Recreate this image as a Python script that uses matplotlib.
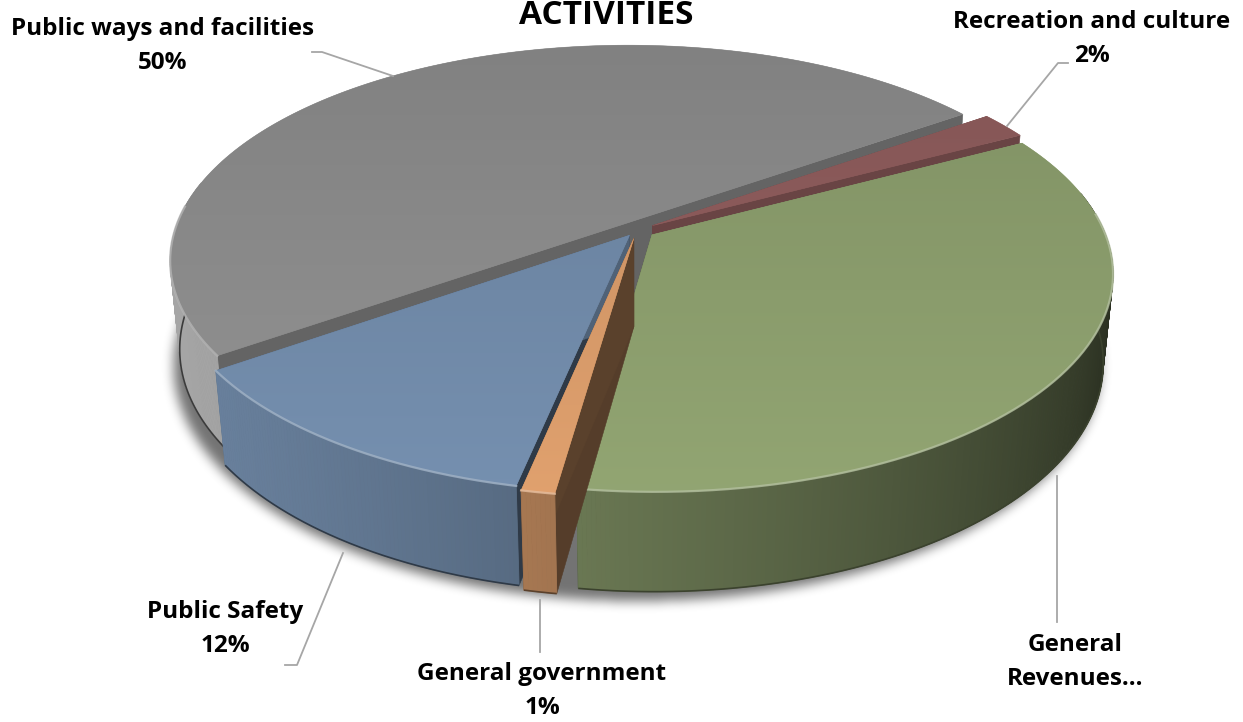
import numpy as np
import matplotlib.pyplot as plt
from matplotlib.collections import PolyCollection
from matplotlib.patches import Polygon
from matplotlib.path import Path
from matplotlib.colors import to_rgb

W, H = 1243, 722

# slices in drawing order around the pie (clockwise from the left edge)
categories = ["Public ways and facilities", "Recreation and culture",
              "General Revenues", "General government", "Public Safety"]
shares = [50, 2, 35, 1, 12]
label_text = ["Public ways and facilities", "Recreation and culture",
              "General\nRevenues\u2026", "General government", "Public Safety"]
show_pct = [True, True, False, True, True]
top_colors = ["#8b8b8b", "#8e5c5c", "#8a9c6c", "#d49868", "#6f88a6"]
wall_gain = [1.25, 1.0, 1.0, 1.0, 1.0]
explode = [0.04, 0.04, 0.04, 0.04, 0.03]

# pie geometry in pixels / camera
CX, CY, S = 637, 230, 452
PHI = np.radians(27.8)
SP, CP = np.sin(PHI), np.cos(PHI)
DIST = 5.13
T = 0.224
START = 215.0
LIGHT = np.radians(-160)

FONT = ["Open Sans", "DejaVu Sans"]


def proj(X, Y, Z):
    X = np.asarray(X, float); Y = np.asarray(Y, float); Z = np.asarray(Z, float)
    depth = Y * CP - Z * SP
    s = DIST / (DIST + depth)
    return CX + S * X * s, CY - S * (Y * SP + Z * CP) * s


def wall_shade(rgb, ang, gain=1.0):
    k = (0.25 + 0.7 * (1 + np.cos(ang - LIGHT)) / 2) * gain
    return tuple(np.clip(np.array(rgb) * k, 0, 1))


def face_shade(rgb, nrm):
    k = 0.3 + 0.45 * np.cos(nrm + np.radians(70)) ** 2
    return tuple(np.clip(np.array(rgb) * k, 0, 1))


def lighten(rgb, f):
    return tuple(np.array(rgb) + (1 - np.array(rgb)) * f)


def box_blur(img, r, passes=3):
    for _ in range(passes):
        for axis in (0, 1):
            pad = [(0, 0), (0, 0)]
            pad[axis] = (r + 1, r)
            c = np.cumsum(np.pad(img, pad, mode="edge"), axis=axis)
            if axis == 0:
                img = (c[2 * r + 1:] - c[:-2 * r - 1]) / (2 * r + 1)
            else:
                img = (c[:, 2 * r + 1:] - c[:, :-2 * r - 1]) / (2 * r + 1)
    return img


fig = plt.figure(figsize=(W / 100, H / 100), dpi=100)
ax = fig.add_axes([0, 0, 1, 1])
ax.set_xlim(0, W); ax.set_ylim(H, 0); ax.axis("off")

# soft drop shadow under the pie
tt = np.linspace(0, 2 * np.pi, 400)
bx, by = proj(1.03 * np.cos(tt), 1.03 * np.sin(tt), -T)
shadow_path = Path(np.column_stack([bx, by + 7]))
yy, xx = np.mgrid[0:H, 0:W]
mask = shadow_path.contains_points(np.column_stack([xx.ravel() + 0.5, yy.ravel() + 0.5]))
mask = box_blur(mask.reshape(H, W).astype(float), 5)
rgba = np.zeros((H, W, 4)); rgba[..., 3] = mask * 0.55
ax.imshow(rgba, extent=(0, W, H, 0), zorder=0, interpolation="bilinear")

# angles of each slice
bounds = START - np.concatenate([[0], np.cumsum(shares)]) * 3.6
slices = []
for i in range(len(shares)):
    th1, th0 = bounds[i], bounds[i + 1]
    mid = np.radians((th0 + th1) / 2)
    slices.append((i, np.radians(th0), np.radians(th1), mid))
slices.sort(key=lambda s: -np.sin(s[3]))

grad_y = np.linspace(0, H, 200)
grad_f = 0.93 + 0.13 * np.clip((grad_y - 45) / 455, 0, 1)

z = 1
for i, a0, a1, mid in slices:
    base = to_rgb(top_colors[i])
    ox, oy = explode[i] * np.cos(mid), explode[i] * np.sin(mid)

    # radial cut faces
    for a, nrm in ((a1, a1 + np.pi / 2), (a0, a0 - np.pi / 2)):
        fx, fy = proj([ox, ox + np.cos(a), ox + np.cos(a), ox],
                      [oy, oy + np.sin(a), oy + np.sin(a), oy], [0, 0, -T, -T])
        fc = face_shade(base, nrm)
        ax.add_patch(Polygon(np.column_stack([fx, fy]), closed=True,
                             fc=fc, ec=fc, lw=0.4, zorder=z))
        z += 1

    # outer wall as thin strips, back to front
    n = max(4, int(np.degrees(a1 - a0) * 2))
    th = np.linspace(a0, a1, n + 1)
    quads, cols, keys = [], [], []
    for k in range(n):
        tm = (th[k] + th[k + 1]) / 2
        if np.sin(tm) > 0.2:
            continue
        ta, tb = th[k], th[k + 1]
        qx, qy = proj([ox + np.cos(ta), ox + np.cos(tb), ox + np.cos(tb), ox + np.cos(ta)],
                      [oy + np.sin(ta), oy + np.sin(tb), oy + np.sin(tb), oy + np.sin(ta)],
                      [0, 0, -T, -T])
        quads.append(np.column_stack([qx, qy]))
        cols.append(wall_shade(base, tm, wall_gain[i]))
        keys.append(-np.sin(tm))
    if quads:
        order = np.argsort(keys)
        pc = PolyCollection([quads[o] for o in order], facecolors=[cols[o] for o in order],
                            edgecolors=[cols[o] for o in order], linewidths=0.6, zorder=z)
        ax.add_collection(pc); z += 1
        vis = np.linspace(a0, a1, 200)
        vis = vis[np.sin(vis) < 0.05]
        if len(vis):
            ex, ey = proj(ox + np.cos(vis), oy + np.sin(vis), -T * np.ones_like(vis))
            ax.plot(ex, ey, color=wall_shade(base, np.radians(-40)), lw=1.2, zorder=z,
                    solid_capstyle="butt"); z += 1

    # top face with a gentle front-to-back gradient
    arc = np.linspace(a0, a1, 160)
    px, py = proj(np.r_[ox, ox + np.cos(arc)], np.r_[oy, oy + np.sin(arc)], np.zeros(len(arc) + 1))
    poly = Polygon(np.column_stack([px, py]), closed=True, fc=base, ec=base, lw=0.4, zorder=z)
    ax.add_patch(poly); z += 1
    img = np.clip(np.array(base)[None, None, :] * grad_f[:, None, None], 0, 1)
    im = ax.imshow(img, extent=(0, W, H, 0), zorder=z, interpolation="bilinear", aspect="auto")
    im.set_clip_path(poly); z += 1

    vis = arc[np.sin(arc) < 0.1]
    if len(vis):
        hx, hy = proj(ox + np.cos(vis), oy + np.sin(vis), np.zeros_like(vis))
        ax.plot(hx, hy, color=lighten(base, 0.35), lw=1.6, alpha=0.8, zorder=z); z += 1

ax.set_xlim(0, W); ax.set_ylim(H, 0)

# labels and leader lines
label_xy = [(163, 29), (1092, 22), (1075, 645), (542, 674), (225, 612)]
leaders = [[(312, 52), (322, 52), (393, 76)],
           [(1068, 63), (1058, 63), (1007, 126)],
           [(1057, 476), (1057, 622)],
           [(540, 600), (540, 652)],
           [(343, 553), (297, 665), (285, 665)]]
for i in range(len(shares)):
    lx, ly = zip(*leaders[i])
    ax.plot(lx, ly, color="#a6a6a6", lw=1.3, zorder=z)
    lines = label_text[i].split("\n")
    if show_pct[i]:
        lines.append(f"{shares[i]}%")
    x0, y0 = label_xy[i]
    for j, s in enumerate(lines):
        ax.text(x0, y0 + 34 * j, s, ha="center", va="center", fontsize=17.5,
                fontweight="bold", family=FONT, color="black", zorder=z + 1)

ax.text(606, 24, "ACTIVITIES", ha="center", va="baseline", fontsize=24,
        fontweight="bold", family=FONT, color="black", zorder=z + 1)

fig.savefig("out.png", dpi=100)
